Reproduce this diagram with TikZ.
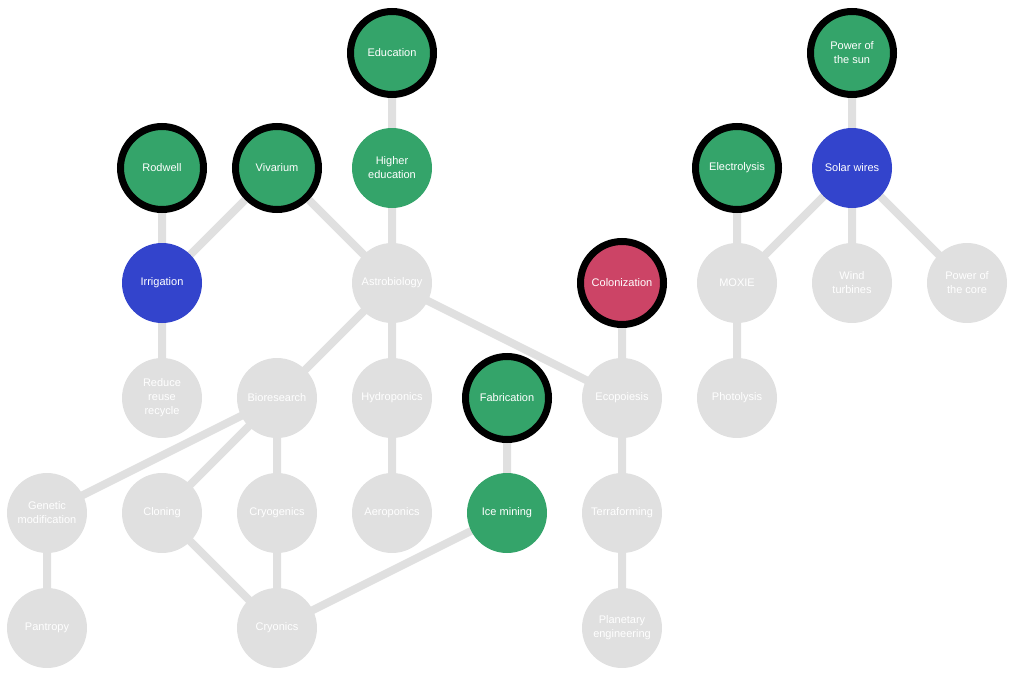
\documentclass[tikz,border=0pt]{standalone}
\usepackage{fontspec}
\setmainfont{Liberation Sans}
\usetikzlibrary{backgrounds}
\definecolor{gr}{HTML}{E0E0E0}
\definecolor{gn}{HTML}{34A46A}
\definecolor{bl}{HTML}{3344CC}
\definecolor{rd}{HTML}{CC4466}
\begin{document}
\begin{tikzpicture}[x=1pt,y=-1pt,
  nd/.style={circle,minimum size=80pt,inner sep=1pt,fill=gr,text=white,align=center,font=\fontsize{11}{14}\selectfont},
  grn/.style={nd,fill=gn},
  blu/.style={nd,fill=bl},
  ring/.style={minimum size=83pt,draw=black,line width=7pt},
  ed/.style={gr,line width=8pt}]
\useasboundingbox (0,0) rectangle (1024,682);
\node[grn,ring] (edu) at (392,53) {Education};
\node[grn,ring] (sun) at (852,53) {Power of\\the sun};
\node[grn,ring] (rod) at (162,168) {Rodwell};
\node[grn,ring] (viv) at (277,168) {Vivarium};
\node[grn] (hed) at (392,168) {Higher\\education};
\node[grn,ring] (ele) at (737,168) {Electrolysis};
\node[blu] (sol) at (852,168) {Solar wires};
\node[blu] (irr) at (162,283) {Irrigation};
\node[nd] (ast) at (392,283) {Astrobiology};
\node[nd,fill=rd,ring] (col) at (622,283) {Colonization};
\node[nd] (mox) at (737,283) {MOXIE};
\node[nd] (win) at (852,283) {Wind\\turbines};
\node[nd] (cor) at (967,283) {Power of\\the core};
\node[nd] (red) at (162,398) {Reduce\\reuse\\recycle};
\node[nd] (bio) at (277,398) {Bioresearch};
\node[nd] (hyd) at (392,398) {Hydroponics};
\node[grn,ring] (fab) at (507,398) {Fabrication};
\node[nd] (eco) at (622,398) {Ecopoiesis};
\node[nd] (pho) at (737,398) {Photolysis};
\node[nd] (gen) at (47,513) {Genetic\\modification};
\node[nd] (clo) at (162,513) {Cloning};
\node[nd] (cry) at (277,513) {Cryogenics};
\node[nd] (aer) at (392,513) {Aeroponics};
\node[grn] (ice) at (507,513) {Ice mining};
\node[nd] (ter) at (622,513) {Terraforming};
\node[nd] (pan) at (47,628) {Pantropy};
\node[nd] (cns) at (277,628) {Cryonics};
\node[nd] (pla) at (622,628) {Planetary\\engineering};
\begin{scope}[on background layer]
\draw[ed] (edu.center)--(hed.center) (hed.center)--(ast.center) (viv.center)--(irr.center)
 (viv.center)--(ast.center) (rod.center)--(irr.center) (irr.center)--(red.center)
 (ast.center)--(bio.center) (ast.center)--(hyd.center) (ast.center)--(eco.center)
 (hyd.center)--(aer.center) (bio.center)--(gen.center) (bio.center)--(clo.center)
 (bio.center)--(cry.center) (cry.center)--(cns.center) (clo.center)--(cns.center)
 (gen.center)--(pan.center) (ice.center)--(cns.center) (fab.center)--(ice.center)
 (col.center)--(eco.center) (eco.center)--(ter.center) (ter.center)--(pla.center)
 (sun.center)--(sol.center) (ele.center)--(mox.center) (sol.center)--(mox.center)
 (sol.center)--(win.center) (sol.center)--(cor.center) (mox.center)--(pho.center);
\end{scope}
\end{tikzpicture}
\end{document}
